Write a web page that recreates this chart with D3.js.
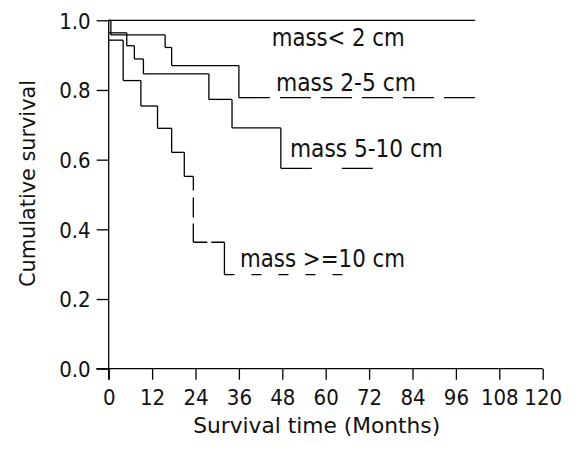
<!DOCTYPE html>
<html>
<head>
<meta charset="utf-8">
<script src="https://cdn.jsdelivr.net/npm/d3@7"></script>
<style>
  html, body { margin: 0; padding: 0; background: #fff; }
  svg { display: block; }
  text { font-family: "DejaVu Sans Condensed", "DejaVu Sans", sans-serif; font-stretch: condensed; fill: #111; }
</style>
</head>
<body>
<svg id="chart" width="579" height="452"></svg>
<script>
// ---- data ----
const seriesNames = ["mass< 2 cm", "mass 2-5 cm", "mass 5-10 cm", "mass >=10 cm"];
const lt2Months   = [0, 101.3];
const lt2Surv     = [1.0, 1.0];
const m25Months   = [0, 0.6, 15.6, 17.4, 36.0, 102.4];
const m25Surv     = [1.0, 0.958, 0.922, 0.870, 0.778, 0.778];
const m510Months  = [0, 5.0, 7.1, 9.6, 27.7, 34.1, 47.6, 73.4];
const m510Surv    = [0.964, 0.927, 0.889, 0.846, 0.773, 0.691, 0.575, 0.575];
const m10Months   = [0, 4.0, 8.9, 13.5, 17.4, 20.9, 23.4, 32.0, 65.9];
const m10Surv     = [0.943, 0.827, 0.754, 0.690, 0.621, 0.552, 0.363, 0.270, 0.270];
const xTicks = [0, 12, 24, 36, 48, 60, 72, 84, 96, 108, 120];
const yTicks = [0.0, 0.2, 0.4, 0.6, 0.8, 1.0];
const xTitle = "Survival time (Months)";
const yTitle = "Cumulative survival";

// ---- layout / style ----
const W = 579, H = 452;
const svg = d3.select("#chart");
const x = d3.scaleLinear().domain([0, 120]).range([108.7, 542.7]);
const y = d3.scaleLinear().domain([0, 1]).range([368.7, 20.3]);

const curves = [
  { t: lt2Months,  s: lt2Surv,  label: seriesNames[0], lx: 271.7, ly: 45.7,  lw: 133, styles: {} },
  { t: m25Months,  s: m25Surv,  label: seriesNames[1], lx: 276,   ly: 90.7,  lw: 140, styles: { h4: "31,10" } },
  { t: m510Months, s: m510Surv, label: seriesNames[2], lx: 290,   ly: 157.3, lw: 153, styles: { h6: "31,30" } },
  { t: m10Months,  s: m10Surv,  label: seriesNames[3], lx: 240,   ly: 266.7, lw: 165, styles: { v6: "14,7,20,6,20", h6: "14,4,14", h7: "10,17" } }
];

const stroke = "#000", sw = 1.3;

// axes
const xAxis = d3.axisBottom(x).tickValues(xTicks).tickSize(11).tickSizeOuter(0).tickFormat(d3.format("d"));
const gx = svg.append("g").attr("transform", `translate(0,${y(0)})`).call(xAxis);
gx.select(".domain").remove();
gx.selectAll(".tick line").attr("stroke", stroke).attr("stroke-width", sw);
gx.selectAll(".tick text").attr("y", 0).attr("dy", 0).attr("transform", "translate(0,36.5)")
  .style("font-size", "22px").attr("fill", "#111");
svg.append("line").attr("x1", x(0) - 12.5).attr("x2", x(120)).attr("y1", y(0)).attr("y2", y(0))
  .attr("stroke", stroke).attr("stroke-width", sw);

const yAxis = d3.axisLeft(y).tickValues(yTicks).tickSize(12).tickSizeOuter(0).tickFormat(d3.format(".1f"));
const gy = svg.append("g").attr("transform", `translate(${x(0)},0)`).call(yAxis);
gy.select(".domain").remove();
gy.selectAll(".tick line").attr("stroke", stroke).attr("stroke-width", sw);
gy.selectAll(".tick text").attr("x", -18).attr("dy", "0.36em").style("font-size", "22px").attr("fill", "#111");
svg.append("line").attr("x1", x(0)).attr("x2", x(0)).attr("y1", y(1)).attr("y2", y(0) + 11)
  .attr("stroke", stroke).attr("stroke-width", sw);

// titles
svg.append("text").attr("x", 316.7).attr("y", 433).attr("text-anchor", "middle")
  .style("font-size", "22px").attr("textLength", 247).attr("lengthAdjust", "spacingAndGlyphs").text(xTitle);
svg.append("text").attr("transform", "translate(35,183.5) rotate(-90)").attr("text-anchor", "middle")
  .style("font-size", "22px").attr("textLength", 207).attr("lengthAdjust", "spacingAndGlyphs").text(yTitle);

// KM step curves
const gc = svg.append("g");
curves.forEach(c => {
  const segs = [];
  for (let i = 0; i < c.t.length - 1; i++) {
    segs.push({ key: "h" + i, x1: x(c.t[i]), y1: y(c.s[i]), x2: x(c.t[i + 1]), y2: y(c.s[i]) });
    if (c.s[i + 1] !== c.s[i]) {
      segs.push({ key: "v" + (i + 1), x1: x(c.t[i + 1]), y1: y(c.s[i]), x2: x(c.t[i + 1]), y2: y(c.s[i + 1]) });
    }
  }
  gc.selectAll(null).data(segs).join("line")
    .attr("x1", d => d.x1).attr("y1", d => d.y1).attr("x2", d => d.x2).attr("y2", d => d.y2)
    .attr("stroke", stroke).attr("stroke-width", sw)
    .attr("stroke-dasharray", d => c.styles[d.key] || null);
  svg.append("text").attr("x", c.lx).attr("y", c.ly).style("font-size", "24px")
    .attr("textLength", c.lw).attr("lengthAdjust", "spacingAndGlyphs").text(c.label);
});
</script>
</body>
</html>
